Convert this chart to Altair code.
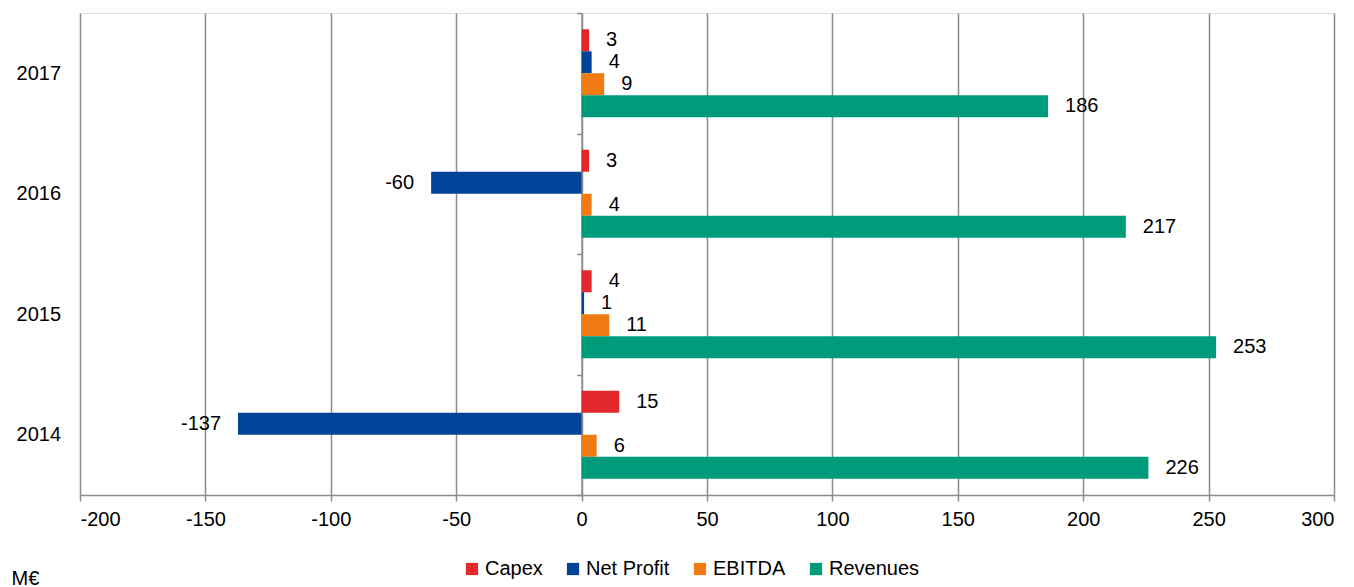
import altair as alt
import pandas as pd

# Key figures per year (M€)
years = ["2017", "2016", "2015", "2014"]
series = ["Capex", "Net Profit", "EBITDA", "Revenues"]
capex = [3, 3, 4, 15]
net_profit = [4, -60, 1, -137]
ebitda = [9, 4, 11, 6]
revenues = [186, 217, 253, 226]
colors = ["#e3282c", "#00449a", "#f07b12", "#009b7b"]
x_ticks = list(range(-200, 301, 50))

rows = []
for i, yr in enumerate(years):
    for name, vals in zip(series, [capex, net_profit, ebitda, revenues]):
        rows.append({"Year": yr, "Series": name, "Value": vals[i]})
df = pd.DataFrame(rows)

FONT = "Liberation Sans"
GRID = "#8c8c8c"

y_enc = alt.Y(
    "Year:N",
    sort=years,
    scale=alt.Scale(paddingInner=0, paddingOuter=0),
    axis=alt.Axis(
        title=None, orient="left", offset=-501.6, tickBand="extent",
        tickSize=5, tickColor=GRID, tickWidth=1.5,
        domainColor=GRID, domainWidth=1.5,
        labelPadding=516, labelFontSize=20, labelColor="black",
        labelFont=FONT, grid=False,
    ),
)
yoff = alt.YOffset("Series:N", sort=series,
                   scale=alt.Scale(paddingOuter=0.74, paddingInner=0))
x_enc = alt.X(
    "Value:Q",
    scale=alt.Scale(domain=[-200, 300], nice=False, zero=True),
    axis=alt.Axis(
        values=x_ticks, grid=True, gridColor=GRID, gridWidth=1.5,
        domainColor=GRID, domainWidth=1.5, tickColor=GRID, tickWidth=1.5,
        tickSize=6, labelPadding=8, labelFontSize=20, labelColor="black",
        labelFont=FONT, labelExpr="toString(datum.value)",
        title="M€", titleFont=FONT, titleFontSize=20, titleFontWeight="normal",
        titleColor="black", titleAlign="left", titleBaseline="alphabetic",
        titleX=-69, titleY=89, titleAnchor="start",
    ),
)

bars = alt.Chart(df).mark_bar(size=22).encode(
    x=x_enc,
    y=y_enc,
    yOffset=yoff,
    color=alt.Color(
        "Series:N",
        sort=series,
        scale=alt.Scale(domain=series, range=colors),
        legend=alt.Legend(
            title=None, orient="none", direction="horizontal",
            legendX=382, legendY=546, symbolType="square", symbolSize=150,
            symbolStrokeWidth=0, labelFontSize=20, labelFont=FONT,
            labelColor="black", labelOffset=3, columnPadding=20, padding=0,
        ),
    ),
)

label_base = alt.Chart(df).transform_calculate(label="toString(datum.Value)")

pos_labels = label_base.transform_filter("datum.Value >= 0").mark_text(
    align="left", baseline="middle", dx=17, fontSize=20, font=FONT, color="black"
).encode(x="Value:Q", y=alt.Y("Year:N", sort=years),
         yOffset=alt.YOffset("Series:N", sort=series), text="label:N")

neg_labels = label_base.transform_filter("datum.Value < 0").mark_text(
    align="right", baseline="middle", dx=-17, fontSize=20, font=FONT, color="black"
).encode(x="Value:Q", y=alt.Y("Year:N", sort=years),
         yOffset=alt.YOffset("Series:N", sort=series), text="label:N")

chart = alt.layer(bars, pos_labels, neg_labels).properties(
    width=1254,
    height=482,
    autosize=alt.AutoSizeParams(type="none"),
    padding={"left": 80, "top": 13, "right": 20, "bottom": 92},
).configure_view(stroke=None).configure(background="white")

chart.save("out.html", embed_options={"renderer": "svg", "actions": False})
